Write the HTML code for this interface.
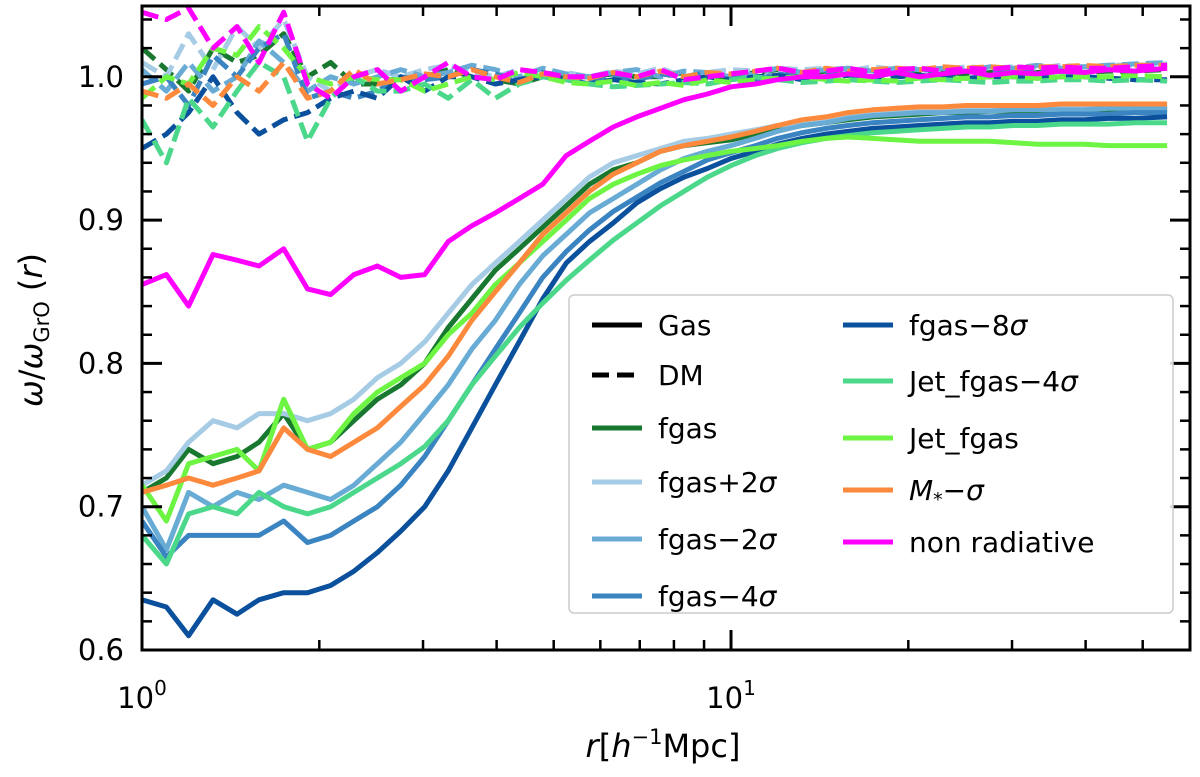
<!DOCTYPE html>
<html><head><meta charset="utf-8">
<style>
body{margin:0;background:#fff;}
svg{display:block;font-family:"DejaVu Sans","Liberation Sans",sans-serif;}
</style></head>
<body>
<svg id="chart" width="1200" height="777" viewBox="0 0 1200 777" xmlns="http://www.w3.org/2000/svg">
<g id="series"></g>
<rect x="142" y="6" width="1048" height="644" fill="none" stroke="#000" stroke-width="3"/>
<g id="ticks"></g>
<text x="663" y="757" font-size="32" text-anchor="middle"><tspan font-style="italic">r</tspan>[<tspan font-style="italic">h</tspan><tspan font-size="21" dy="-13">−1</tspan><tspan dy="13">Mpc]</tspan></text>
<text transform="translate(42,330) rotate(-90)" font-size="32" text-anchor="middle"><tspan font-style="italic">ω</tspan>/<tspan font-style="italic">ω</tspan><tspan font-size="21" dy="7">GrO</tspan><tspan dy="-7"> (</tspan><tspan font-style="italic">r</tspan>)</text>
<g id="legend">
<rect x="569" y="295" width="604" height="318" rx="5" fill="#fff" fill-opacity="0.85" stroke="#ccc" stroke-width="1.5"/>
</g>
</svg>
<script>
const radii=[1.00,1.10,1.20,1.32,1.45,1.58,1.74,1.91,2.09,2.29,2.51,2.75,3.02,3.31,3.63,3.98,4.37,4.79,5.25,5.75,6.31,6.92,7.59,8.32,9.12,10.0,11.0,12.0,13.2,14.5,15.8,17.4,19.1,20.9,22.9,25.1,27.5,30.2,33.1,36.3,39.8,43.7,48.5,55.0];
const seriesNames=["fgas","fgas+2σ","fgas−2σ","fgas−4σ","fgas−8σ","Jet_fgas−4σ","Jet_fgas","M*−σ","non radiative"];
const gasFgas=[0.71,0.72,0.74,0.73,0.735,0.745,0.765,0.74,0.745,0.76,0.775,0.785,0.80,0.825,0.845,0.865,0.88,0.895,0.91,0.925,0.935,0.94,0.948,0.952,0.954,0.956,0.96,0.963,0.966,0.968,0.97,0.972,0.973,0.974,0.975,0.975,0.976,0.976,0.976,0.977,0.977,0.977,0.977,0.977];
const gasP2=[0.715,0.725,0.745,0.76,0.755,0.765,0.765,0.76,0.765,0.775,0.79,0.80,0.815,0.835,0.855,0.87,0.885,0.90,0.915,0.93,0.94,0.945,0.95,0.955,0.957,0.96,0.963,0.966,0.968,0.97,0.972,0.974,0.975,0.976,0.977,0.977,0.978,0.978,0.979,0.979,0.979,0.979,0.98,0.98];
const gasM2=[0.70,0.67,0.71,0.70,0.71,0.705,0.715,0.71,0.705,0.715,0.73,0.745,0.765,0.785,0.81,0.83,0.855,0.875,0.89,0.905,0.915,0.925,0.935,0.943,0.948,0.952,0.957,0.962,0.966,0.968,0.971,0.973,0.974,0.975,0.975,0.976,0.976,0.977,0.977,0.977,0.977,0.978,0.978,0.978];
const gasM4=[0.69,0.665,0.68,0.68,0.68,0.68,0.69,0.675,0.68,0.69,0.70,0.715,0.735,0.76,0.785,0.81,0.835,0.86,0.878,0.893,0.906,0.916,0.926,0.934,0.942,0.947,0.952,0.957,0.961,0.964,0.966,0.968,0.969,0.97,0.971,0.972,0.972,0.973,0.973,0.974,0.974,0.974,0.975,0.975];
const gasM8=[0.635,0.63,0.61,0.635,0.625,0.635,0.64,0.64,0.645,0.655,0.668,0.683,0.70,0.725,0.755,0.785,0.815,0.845,0.87,0.885,0.898,0.912,0.922,0.93,0.936,0.943,0.948,0.953,0.957,0.96,0.962,0.964,0.965,0.966,0.967,0.968,0.968,0.969,0.969,0.97,0.97,0.971,0.971,0.972];
const gasJ4=[0.68,0.66,0.695,0.70,0.695,0.71,0.70,0.695,0.70,0.71,0.72,0.73,0.742,0.76,0.785,0.805,0.825,0.842,0.858,0.872,0.886,0.898,0.91,0.92,0.93,0.938,0.945,0.95,0.954,0.957,0.959,0.961,0.962,0.963,0.964,0.965,0.965,0.966,0.966,0.967,0.967,0.967,0.968,0.968];
const gasJet=[0.715,0.69,0.73,0.735,0.74,0.725,0.775,0.74,0.745,0.765,0.78,0.79,0.80,0.82,0.835,0.855,0.87,0.885,0.90,0.915,0.925,0.932,0.938,0.942,0.945,0.948,0.95,0.952,0.955,0.957,0.958,0.957,0.956,0.955,0.955,0.955,0.955,0.954,0.953,0.953,0.953,0.952,0.952,0.952];
const gasMstar=[0.71,0.715,0.72,0.715,0.72,0.725,0.755,0.74,0.735,0.745,0.755,0.77,0.785,0.805,0.83,0.85,0.87,0.89,0.905,0.92,0.932,0.94,0.948,0.952,0.955,0.958,0.962,0.966,0.97,0.972,0.975,0.977,0.978,0.979,0.979,0.98,0.98,0.98,0.98,0.981,0.981,0.981,0.981,0.981];
const gasNonRad=[0.855,0.862,0.84,0.876,0.872,0.868,0.88,0.852,0.848,0.862,0.868,0.86,0.862,0.885,0.896,0.905,0.915,0.925,0.945,0.955,0.965,0.972,0.978,0.984,0.988,0.993,0.995,0.998,1.0,1.0,1.002,1.0,1.003,1.0,1.002,1.004,1.001,1.003,1.002,1.004,1.003,1.005,1.004,1.006];
const dmFgas=[1.02,1.005,0.99,1.02,1.01,1.015,1.03,1.0,1.01,0.995,0.995,1.0,1.0,1.005,1.0,0.998,0.995,1.0,1.0,1.0,1.002,1.0,1.0,1.003,0.998,1.0,1.003,1.005,1.002,1.004,1.002,1.0,1.003,1.004,1.003,1.002,1.003,1.004,1.003,1.004,1.003,1.004,1.004,1.005];
const dmP2=[1.01,1.0,1.03,1.005,1.035,1.02,1.04,1.0,0.99,1.0,1.005,1.0,1.005,1.008,1.003,1.0,1.005,1.002,1.003,1.0,1.004,1.002,1.006,1.0,1.003,1.005,1.004,1.006,1.005,1.006,1.004,1.007,1.005,1.006,1.005,1.007,1.006,1.007,1.006,1.008,1.007,1.008,1.008,1.009];
const dmM2=[1.005,0.99,1.01,0.99,1.0,1.025,1.01,0.99,1.0,0.995,1.0,1.005,1.0,1.003,1.008,1.005,1.0,1.006,1.002,1.0,1.003,1.005,1.0,1.004,1.003,1.0,1.002,1.006,1.003,1.005,1.006,1.004,1.006,1.005,1.006,1.004,1.007,1.006,1.008,1.006,1.007,1.008,1.009,1.01];
const dmM4=[0.995,1.0,0.98,1.015,1.0,1.02,1.03,0.985,0.99,0.985,0.99,1.0,0.998,1.0,1.005,1.002,0.998,1.003,1.0,0.998,1.0,0.998,1.002,1.0,1.003,1.0,0.998,1.002,1.0,1.003,1.002,1.004,1.003,1.005,1.004,1.003,1.005,1.004,1.006,1.005,1.006,1.006,1.007,1.008];
const dmM8=[0.95,0.96,0.975,1.0,0.975,0.96,0.97,0.975,0.985,0.99,0.985,1.0,0.99,1.0,1.0,0.995,0.998,1.0,0.998,0.995,0.998,0.996,0.995,0.998,1.0,0.998,1.0,1.001,0.998,1.0,1.001,0.999,1.0,1.001,1.0,0.999,1.0,1.0,0.999,1.0,1.0,0.999,0.998,0.998];
const dmJ4=[0.97,0.94,0.985,0.965,0.99,1.01,1.0,0.955,0.985,1.0,0.99,0.99,0.995,0.985,0.998,0.985,0.995,1.0,0.998,0.995,0.993,0.994,0.995,0.996,0.995,0.998,1.0,0.998,0.996,0.997,0.998,0.997,0.996,0.997,0.998,0.997,0.996,0.997,0.997,0.998,0.998,0.997,0.998,0.997];
const dmJet=[0.985,1.0,0.995,1.02,1.015,1.035,1.02,1.0,0.995,1.0,0.998,0.998,0.99,0.995,1.0,0.998,1.003,1.0,0.996,0.995,0.997,0.994,0.996,0.994,0.998,0.996,0.998,0.999,1.0,0.998,0.997,0.998,0.997,0.999,0.998,0.999,1.0,1.0,0.999,1.0,1.0,1.0,1.001,1.0];
const dmMstar=[0.99,0.985,0.995,0.98,1.0,0.99,1.01,0.985,0.99,1.005,0.995,0.998,1.002,1.0,1.005,1.0,0.996,1.002,1.0,0.999,1.003,1.0,1.004,1.0,1.003,1.002,1.004,1.006,1.003,1.006,1.004,1.005,1.006,1.005,1.007,1.006,1.007,1.006,1.007,1.007,1.008,1.007,1.008,1.008];
const dmNonRad=[1.045,1.04,1.048,1.02,1.035,1.01,1.045,0.995,0.985,1.0,1.005,0.99,1.0,1.01,1.0,0.998,1.005,1.003,1.0,1.0,1.003,1.0,1.005,0.998,1.0,1.002,1.004,1.006,1.003,1.004,1.006,1.003,1.005,1.006,1.004,1.006,1.005,1.007,1.006,1.007,1.006,1.006,1.007,1.008];
const xTicks=[1,10];
const yTicks=[0.6,0.7,0.8,0.9,1.0];

const NS="http://www.w3.org/2000/svg";
const X0=142,DEC=589,Y0=650,YS=1433;
function xs(r){return X0+Math.log10(r)*DEC;}
function ys(v){return Y0-(v-0.6)*YS;}
const colors=["#18782f","#a6cbe5","#68abd5","#3a84c2","#0b509c","#4bd88a","#6ef442","#fd8a3c","#ff00ff"];
const gasSets=[gasFgas,gasP2,gasM2,gasM4,gasM8,gasJ4,gasJet,gasMstar,gasNonRad];
const dmSets=[dmFgas,dmP2,dmM2,dmM4,dmM8,dmJ4,dmJet,dmMstar,dmNonRad];
const keys=["fgas","fgas-plus-2sigma","fgas-minus-2sigma","fgas-minus-4sigma","fgas-minus-8sigma","jet-fgas-minus-4sigma","jet-fgas","mstar-minus-sigma","non-radiative"];
const sg=document.getElementById('series');
const clip=document.createElementNS(NS,'clipPath');clip.setAttribute('id','pc');
const cr=document.createElementNS(NS,'rect');cr.setAttribute('x',142);cr.setAttribute('y',6);cr.setAttribute('width',1048);cr.setAttribute('height',644);
clip.appendChild(cr);sg.appendChild(clip);
function line(vals,color,dash,name){
  const p=document.createElementNS(NS,'polyline');
  p.setAttribute('points',vals.map((v,i)=>xs(radii[i]).toFixed(1)+','+ys(v).toFixed(1)).join(' '));
  p.setAttribute('fill','none');p.setAttribute('stroke',color);p.setAttribute('stroke-width','5');
  p.setAttribute('stroke-linejoin','round');p.setAttribute('clip-path','url(#pc)');
  if(dash)p.setAttribute('stroke-dasharray','17 7');
  
  
  sg.appendChild(p);
}
dmSets.forEach((s,i)=>line(s,colors[i],true,'dm-line-'+keys[i]));
gasSets.forEach((s,i)=>line(s,colors[i],false,'gas-line-'+keys[i]));

const tg=document.getElementById('ticks');
function tl(x1,y1,x2,y2,w){const l=document.createElementNS(NS,'line');l.setAttribute('x1',x1);l.setAttribute('y1',y1);l.setAttribute('x2',x2);l.setAttribute('y2',y2);l.setAttribute('stroke','#000');l.setAttribute('stroke-width',w||2.5);


tg.appendChild(l);}
function txt(x,y,s,anchor,name){const t=document.createElementNS(NS,'text');t.setAttribute('x',x);t.setAttribute('y',y);t.setAttribute('font-size','29');t.setAttribute('text-anchor',anchor);t.innerHTML=s;


tg.appendChild(t);return t;}
yTicks.forEach(v=>{const y=ys(v);tl(142,y,162,y,3);tl(1190,y,1170,y,3);txt(124,y+10,v.toFixed(1),'end','y-tick-label');});
for(let v=0.62;v<1.05;v+=0.02){const r=Math.round(v*100);if(r%10===0)continue;const y=ys(r/100);tl(142,y,152,y);tl(1190,y,1180,y);}
xTicks.forEach((r,i)=>{const x=xs(r);tl(x,650,x,630,3);tl(x,6,x,26,3);txt(x,708,'10<tspan font-size="20" dy="-13">'+i+'</tspan>','middle','x-tick-label');});
[2,3,4,5,6,7,8,9,20,30,40,50].forEach(r=>{const x=xs(r);tl(x,650,x,640);tl(x,6,x,16);});

const lg=document.getElementById('legend');
function legItem(x,y,color,dash,label,name){
  const l=document.createElementNS(NS,'line');l.setAttribute('x1',x);l.setAttribute('x2',x+50);l.setAttribute('y1',y);l.setAttribute('y2',y);l.setAttribute('stroke',color);l.setAttribute('stroke-width','5');
  if(dash)l.setAttribute('stroke-dasharray','17 8');
  
  
  lg.appendChild(l);
  const t=document.createElementNS(NS,'text');t.setAttribute('x',x+66);t.setAttribute('y',y+10);t.setAttribute('font-size','28');t.innerHTML=label;
  
  
  lg.appendChild(t);
}
const sig='<tspan font-style="italic">σ</tspan>';
legItem(592,325,'#000',false,'Gas','legend-gas');
legItem(592,375,'#000',true,'DM','legend-dm');
legItem(592,428,colors[0],false,'fgas','legend-fgas');
legItem(592,482,colors[1],false,'fgas+2'+sig,'legend-fgas-plus-2sigma');
legItem(592,539,colors[2],false,'fgas−2'+sig,'legend-fgas-minus-2sigma');
legItem(592,596,colors[3],false,'fgas−4'+sig,'legend-fgas-minus-4sigma');
legItem(843,325,colors[4],false,'fgas−8'+sig,'legend-fgas-minus-8sigma');
legItem(843,381,colors[5],false,'Jet_fgas−4'+sig,'legend-jet-fgas-minus-4sigma');
legItem(843,438,colors[6],false,'Jet_fgas','legend-jet-fgas');
legItem(843,490,colors[7],false,'<tspan font-style="italic">M</tspan><tspan font-size="19" dy="6">*</tspan><tspan dy="-6">−</tspan>'+sig,'legend-mstar-minus-sigma');
legItem(843,542,colors[8],false,'non radiative','legend-non-radiative');
</script>
</body></html>
